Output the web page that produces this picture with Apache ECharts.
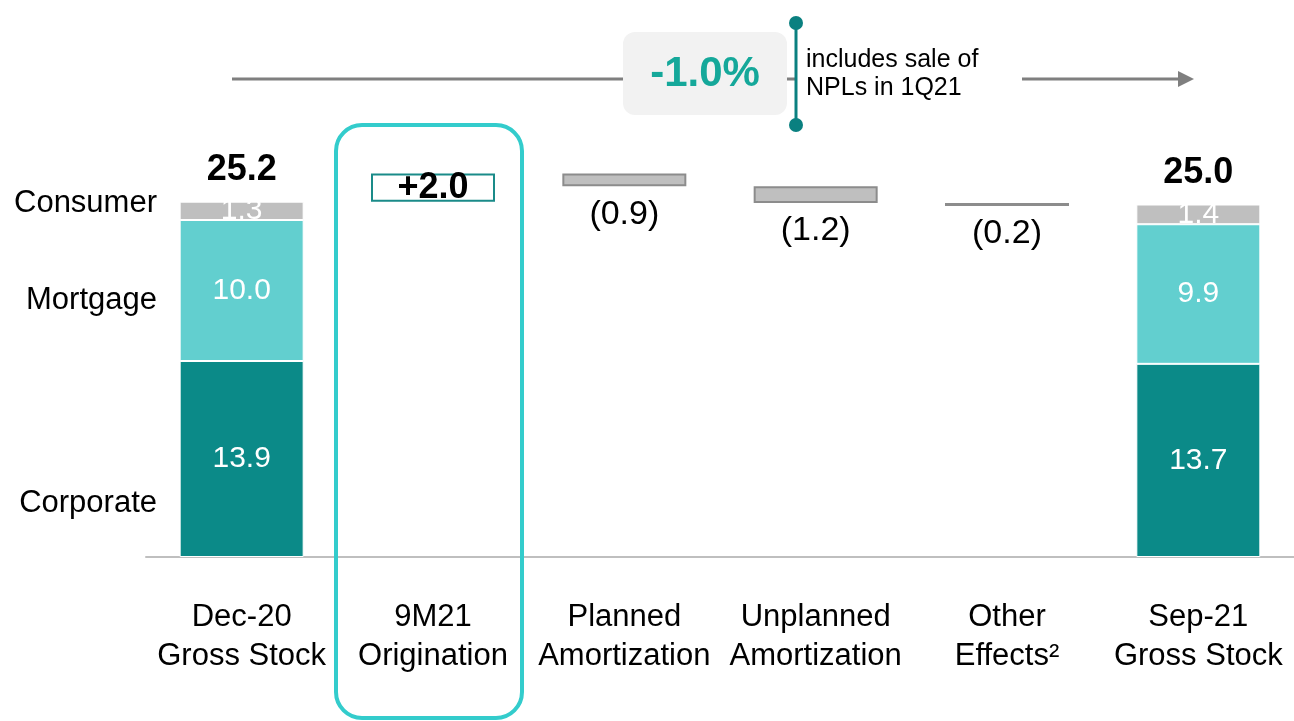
<!DOCTYPE html>
<html>
<head>
<meta charset="utf-8">
<script src="https://cdn.jsdelivr.net/npm/echarts@6/dist/echarts.min.js"></script>
<style>
  html, body { margin: 0; padding: 0; background: #fff; }
  #main { width: 1294px; height: 721px; }
</style>
</head>
<body>
<div id="main"></div>
<script>
// data
var categories = ["Dec-20\nGross Stock", "9M21\nOrigination", "Planned\nAmortization", "Unplanned\nAmortization", "Other\nEffects²", "Sep-21\nGross Stock"];
var corporate = [13.9, "-", "-", "-", "-", 13.7];
var mortgage = [10.0, "-", "-", "-", "-", 9.9];
var consumer = [1.3, "-", "-", "-", "-", 1.4];
var totals = [25.2, "-", "-", "-", "-", 25.0];
var changes = ["-", 2.0, -0.9, -1.2, -0.2, "-"];
var segmentNames = ["Consumer", "Mortgage", "Corporate"];

var FONT = "'Liberation Sans', Arial, sans-serif";

// waterfall: invisible base + visible step
var running = totals[0];
var baseData = [];
var stepData = [];
changes.forEach(function (v) {
  if (v === "-") { baseData.push("-"); stepData.push("-"); return; }
  if (v >= 0) {
    baseData.push(running);
    running += v;
    stepData.push({
      value: v,
      itemStyle: { color: "#fff", borderColor: "#1a8b89", borderWidth: 2 },
      label: { show: true, position: "inside", formatter: "+" + v.toFixed(1), fontSize: 36, fontWeight: "bold", color: "#000", fontFamily: FONT }
    });
  } else {
    running += v;
    baseData.push(+running.toFixed(2));
    stepData.push({
      value: -v,
      itemStyle: { color: "#bfbfbf", borderColor: "#8c8c8c", borderWidth: 2 },
      label: { show: true, position: "bottom", distance: 11, formatter: "(" + (-v).toFixed(1) + ")", fontSize: 34, color: "#000", fontFamily: FONT }
    });
  }
});

function oneDecimal(p) { return p.value.toFixed(1); }
var segLabel = { show: true, position: "inside", color: "#fff", fontSize: 30, fontFamily: FONT, formatter: oneDecimal };

var myChart = echarts.init(document.getElementById("main"));
myChart.setOption({
  animation: false,
  grid: { left: 146, right: 0, top: 134, bottom: 164 },
  xAxis: {
    type: "category",
    data: categories,
    axisTick: { show: false },
    axisLine: { lineStyle: { color: "#bfbfbf", width: 2 } },
    axisLabel: { color: "#000", fontSize: 31, lineHeight: 39, margin: 41, fontFamily: FONT, interval: 0 }
  },
  yAxis: { type: "value", min: 0, max: 30, show: false, splitLine: { show: false } },
  series: [
    { name: "Corporate", type: "bar", stack: "w", barWidth: 124, data: corporate,
      itemStyle: { color: "#0b8a88", borderColor: "#fff", borderWidth: 1 }, label: segLabel },
    { name: "Mortgage", type: "bar", stack: "w", data: mortgage,
      itemStyle: { color: "#62cfcf", borderColor: "#fff", borderWidth: 1 }, label: segLabel },
    { name: "Consumer", type: "bar", stack: "w", data: consumer,
      itemStyle: { color: "#bfbfbf", borderColor: "#fff", borderWidth: 1 }, label: segLabel },
    { name: "base", type: "bar", stack: "w", data: baseData,
      itemStyle: { color: "transparent" }, silent: true },
    { name: "step", type: "bar", stack: "w", data: stepData },
    { name: "total", type: "scatter", data: totals, symbolSize: 1,
      itemStyle: { color: "transparent" },
      label: { show: true, position: "top", distance: 13, fontSize: 36, fontWeight: "bold", color: "#000", opacity: 1, fontFamily: FONT, formatter: oneDecimal } }
  ]
});

// annotations
var cx = myChart.convertToPixel({ xAxisIndex: 0 }, categories[1]);
var segY = [203, 300, 503];
var graphics = [
  // highlight round 9M21 column
  { type: "rect", shape: { x: cx - 97, y: 125, width: 186, height: 593, r: 26 },
    style: { fill: "none", stroke: "#33cccc", lineWidth: 4 }, z: 10 },
  // growth arrow
  { type: "line", shape: { x1: 232, y1: 79, x2: 795, y2: 79 }, style: { stroke: "#7f7f7f", lineWidth: 3 } },
  { type: "line", shape: { x1: 1022, y1: 79, x2: 1180, y2: 79 }, style: { stroke: "#7f7f7f", lineWidth: 3 } },
  { type: "polygon", shape: { points: [[1178, 71], [1194, 79], [1178, 87]] }, style: { fill: "#7f7f7f" } },
  { type: "rect", shape: { x: 623, y: 32, width: 164, height: 83, r: 12 }, style: { fill: "#f2f2f2" }, z: 5 },
  { type: "text", x: 705, y: 74, z: 6,
    style: { text: "-1.0%", fill: "#15a89a", font: "bold 42px " + FONT, align: "center", verticalAlign: "middle" } },
  { type: "line", shape: { x1: 796, y1: 23, x2: 796, y2: 125 }, style: { stroke: "#0a8080", lineWidth: 3 }, z: 6 },
  { type: "circle", shape: { cx: 796, cy: 23, r: 7 }, style: { fill: "#0a8080" }, z: 6 },
  { type: "circle", shape: { cx: 796, cy: 125, r: 7 }, style: { fill: "#0a8080" }, z: 6 },
  { type: "text", x: 806, y: 74, z: 6,
    style: { text: "includes sale of\nNPLs in 1Q21", fill: "#000", font: "25px " + FONT, lineHeight: 28, align: "left", verticalAlign: "middle" } }
];
segmentNames.forEach(function (name, i) {
  graphics.push({ type: "text", x: 157, y: segY[i],
    style: { text: name, fill: "#000", font: "31px " + FONT, align: "right", verticalAlign: "middle" } });
});
myChart.setOption({ graphic: graphics });
</script>
</body>
</html>
